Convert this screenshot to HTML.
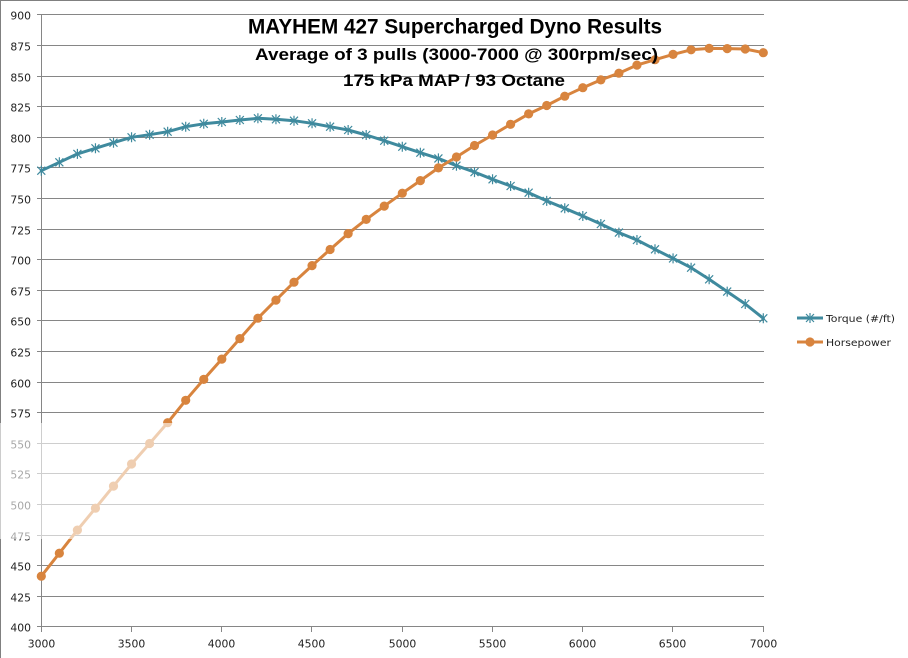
<!DOCTYPE html>
<html>
<head>
<meta charset="utf-8">
<style>
  html,body{margin:0;padding:0;background:#fff;}
  svg{display:block;}
  .yl{font-family:"DejaVu Sans","Liberation Sans",sans-serif;font-size:10.8px;fill:#222;text-anchor:end;}
  .xl{font-family:"DejaVu Sans","Liberation Sans",sans-serif;font-size:10.8px;fill:#222;text-anchor:middle;}
  .lg{font-family:"DejaVu Sans","Liberation Sans",sans-serif;font-size:10px;fill:#222;}
  .tt{font-family:"Liberation Sans",sans-serif;font-weight:bold;fill:#000;text-anchor:middle;}
</style>
</head>
<body>
<svg width="908" height="658" viewBox="0 0 908 658" xmlns="http://www.w3.org/2000/svg">
  <defs>
    <marker id="mst" markerWidth="12" markerHeight="12" refX="6" refY="6" markerUnits="userSpaceOnUse" overflow="visible">
      <path d="M2,2L10,10M2,10L10,2M6,1L6,11" stroke="#3f8a9e" stroke-width="1.2" fill="none"/>
    </marker>
    <marker id="mci" markerWidth="10" markerHeight="10" refX="5" refY="5" markerUnits="userSpaceOnUse" overflow="visible">
      <circle cx="5" cy="5" r="4.6" fill="#d8843e"/>
    </marker>
  </defs>
  <rect x="0" y="0" width="908" height="658" fill="#fff"/>
  <!-- image border -->
  <line x1="0" y1="0.5" x2="908" y2="0.5" stroke="#808080" stroke-width="1"/>
  <line x1="0.5" y1="0" x2="0.5" y2="658" stroke="#808080" stroke-width="1"/>

  <!-- gridlines -->
  <g stroke="#868686" stroke-width="1" shape-rendering="crispEdges">
    <line x1="37" y1="14.5" x2="764" y2="14.5"/>
    <line x1="37" y1="45.5" x2="764" y2="45.5"/>
    <line x1="37" y1="76.5" x2="764" y2="76.5"/>
    <line x1="37" y1="106.5" x2="764" y2="106.5"/>
    <line x1="37" y1="137.5" x2="764" y2="137.5"/>
    <line x1="37" y1="167.5" x2="764" y2="167.5"/>
    <line x1="37" y1="198.5" x2="764" y2="198.5"/>
    <line x1="37" y1="229.5" x2="764" y2="229.5"/>
    <line x1="37" y1="259.5" x2="764" y2="259.5"/>
    <line x1="37" y1="290.5" x2="764" y2="290.5"/>
    <line x1="37" y1="320.5" x2="764" y2="320.5"/>
    <line x1="37" y1="351.5" x2="764" y2="351.5"/>
    <line x1="37" y1="382.5" x2="764" y2="382.5"/>
    <line x1="37" y1="412.5" x2="764" y2="412.5"/>
    <line x1="37" y1="443.5" x2="764" y2="443.5"/>
    <line x1="37" y1="473.5" x2="764" y2="473.5"/>
    <line x1="37" y1="504.5" x2="764" y2="504.5"/>
    <line x1="37" y1="535.5" x2="764" y2="535.5"/>
    <line x1="37" y1="565.5" x2="764" y2="565.5"/>
    <line x1="37" y1="596.5" x2="764" y2="596.5"/>
    <line x1="37" y1="626.5" x2="764" y2="626.5"/>
    <!-- y axis -->
    <line x1="41.5" y1="14" x2="41.5" y2="627"/>
    <!-- x ticks -->
    <line x1="41.5" y1="626" x2="41.5" y2="632"/>
    <line x1="131.5" y1="626" x2="131.5" y2="632"/>
    <line x1="221.5" y1="626" x2="221.5" y2="632"/>
    <line x1="311.5" y1="626" x2="311.5" y2="632"/>
    <line x1="402.5" y1="626" x2="402.5" y2="632"/>
    <line x1="492.5" y1="626" x2="492.5" y2="632"/>
    <line x1="582.5" y1="626" x2="582.5" y2="632"/>
    <line x1="672.5" y1="626" x2="672.5" y2="632"/>
    <line x1="763.5" y1="626" x2="763.5" y2="632"/>
  </g>

  <!-- y labels -->
  <g class="yl">
    <text x="31" y="19.5">900</text>
    <text x="31" y="50.5">875</text>
    <text x="31" y="81.5">850</text>
    <text x="31" y="111.5">825</text>
    <text x="31" y="142.5">800</text>
    <text x="31" y="172.5">775</text>
    <text x="31" y="203.5">750</text>
    <text x="31" y="234.5">725</text>
    <text x="31" y="264.5">700</text>
    <text x="31" y="295.5">675</text>
    <text x="31" y="325.5">650</text>
    <text x="31" y="356.5">625</text>
    <text x="31" y="387.5">600</text>
    <text x="31" y="417.5">575</text>
    <text x="31" y="448.5">550</text>
    <text x="31" y="478.5">525</text>
    <text x="31" y="509.5">500</text>
    <text x="31" y="540.5">475</text>
    <text x="31" y="570.5">450</text>
    <text x="31" y="601.5">425</text>
    <text x="31" y="631.5">400</text>
  </g>

  <!-- x labels -->
  <g class="xl">
    <text x="41.5" y="647.5">3000</text>
    <text x="131.5" y="647.5">3500</text>
    <text x="221.5" y="647.5">4000</text>
    <text x="311.5" y="647.5">4500</text>
    <text x="402.5" y="647.5">5000</text>
    <text x="492.5" y="647.5">5500</text>
    <text x="582.5" y="647.5">6000</text>
    <text x="672.5" y="647.5">6500</text>
    <text x="763.5" y="647.5">7000</text>
  </g>

  <!-- Torque series -->
  <polyline fill="none" stroke="#3f8a9e" stroke-width="3" stroke-linejoin="round" stroke-linecap="round"
    marker-start="url(#mst)" marker-mid="url(#mst)" marker-end="url(#mst)"
    points="41.3,170.7 59.35,162.3 77.4,153.9 95.45,148.3 113.5,142.7 131.55,137.3 149.6,134.7 167.65,131.7 185.7,126.7 203.75,123.8 221.8,122.0 239.85,120.0 257.9,118.3 275.95,119.3 294,120.7 312.05,123.3 330.1,126.7 348.15,130.0 366.2,135.0 384.25,140.7 402.3,146.7 420.35,152.7 438.4,158.4 456.45,165.7 474.5,172.1 492.55,179.3 510.6,186.0 528.65,192.7 546.7,200.9 564.75,208.3 582.8,216.0 600.85,224.0 618.9,232.6 636.95,240.0 655,249.3 673.05,258.4 691.1,267.7 709.15,279.3 727.2,291.6 745.25,304.0 763.3,318.3"/>

  <!-- Horsepower series -->
  <polyline fill="none" stroke="#d8843e" stroke-width="3" stroke-linejoin="round" stroke-linecap="round"
    marker-start="url(#mci)" marker-mid="url(#mci)" marker-end="url(#mci)"
    points="41.3,576.2 59.35,553.2 77.4,530.1 95.45,508.2 113.5,486.1 131.55,464.0 149.6,443.5 167.65,422.7 185.7,400.3 203.75,379.4 221.8,359.1 239.85,338.6 257.9,318.2 275.95,300.1 294,282.2 312.05,265.6 330.1,249.5 348.15,233.6 366.2,219.4 384.25,206.1 402.3,193.2 420.35,180.6 438.4,167.9 456.45,157.0 474.5,145.5 492.55,135.0 510.6,124.3 528.65,113.9 546.7,105.5 564.75,96.2 582.8,87.7 600.85,79.9 618.9,73.2 636.95,65.1 655,59.7 673.05,54.4 691.1,49.8 709.15,48.4 727.2,48.6 745.25,49.0 763.3,52.7"/>

  <!-- watermark wash -->
  <rect x="0" y="423" width="908" height="116" fill="#fff" opacity="0.6"/>

  <!-- Title -->
  <text class="tt" x="455" y="33.3" font-size="21" textLength="414" lengthAdjust="spacingAndGlyphs">MAYHEM 427 Supercharged Dyno Results</text>
  <text class="tt" x="456.5" y="60" font-size="17" textLength="403" lengthAdjust="spacingAndGlyphs">Average of 3 pulls (3000-7000 @ 300rpm/sec)</text>
  <text class="tt" x="454" y="86" font-size="17" textLength="222" lengthAdjust="spacingAndGlyphs">175 kPa MAP / 93 Octane</text>

  <!-- Legend -->
  <line x1="797" y1="318" x2="823" y2="318" stroke="#3f8a9e" stroke-width="3"/>
  <path d="M806,314L814,322M806,322L814,314M810,313L810,323" stroke="#3f8a9e" stroke-width="1.2" fill="none"/>
  <text class="lg" x="826" y="322" textLength="69" lengthAdjust="spacingAndGlyphs">Torque (#/ft)</text>
  <line x1="797" y1="342" x2="823" y2="342" stroke="#d8843e" stroke-width="3"/>
  <circle cx="810" cy="342" r="4.6" fill="#d8843e"/>
  <text class="lg" x="826" y="346" textLength="65" lengthAdjust="spacingAndGlyphs">Horsepower</text>
</svg>
</body>
</html>
